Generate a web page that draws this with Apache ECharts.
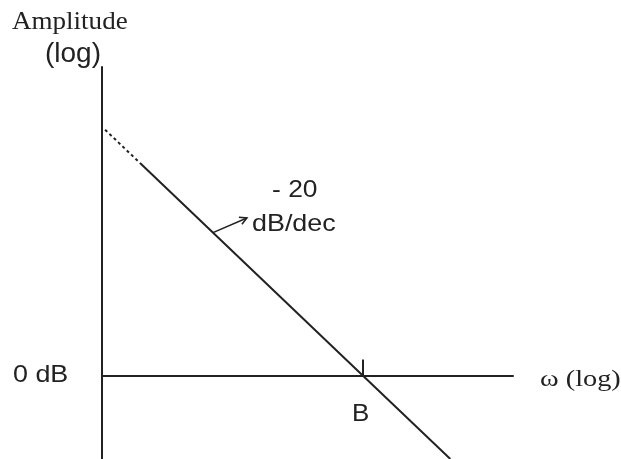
<!DOCTYPE html>
<html>
<head>
<meta charset="utf-8">
<script src="https://cdn.jsdelivr.net/npm/echarts@6/dist/echarts.min.js"></script>
<style>
  html, body { margin: 0; padding: 0; background: #fff; }
  #chart { width: 621px; height: 459px; }
</style>
</head>
<body>
<div id="chart"></div>
<script>
// Asymptotic Bode magnitude sketch: x = log10(ω) in decades, y = gain in dB.
const xRange = [0, 4];
const yRange = [-17, 63];
const slopeLabel = ['- 20', 'dB/dec'];
const crossoverX = 2.54;               // B: where the -20 dB/dec asymptote meets 0 dB
// Extrapolated (dashed) part of the asymptote
const dashedPart = [[0.03, 50.2], [0.37, 43.4]];
// Drawn (solid) part of the asymptote, through B down to the lower edge
const solidPart = [[0.37, 43.4], [crossoverX, 0], [3.39, -17]];
// Small tick marking B on the 0 dB axis
const tickB = [[crossoverX, 0], [crossoverX, 3.3]];
// Arrow pointing from the asymptote to its slope label
const slopeArrow = [[1.08, 29.2], [1.41, 32.2]];

const ink = '#222';
const chart = echarts.init(document.getElementById('chart'));

// Plain text block placed by its top-left corner, optionally widened
function label(text, x, y, font, sx) {
  return {
    type: 'text', x: x, y: y, scaleX: sx || 1, silent: true,
    style: { text: text, font: font, fill: ink, align: 'left', verticalAlign: 'top' }
  };
}

chart.setOption({
  animation: false,
  backgroundColor: '#fff',
  grid: { left: 102, right: 108, top: 67, bottom: 0, outerBoundsMode: 'none' },
  xAxis: {
    type: 'value', min: xRange[0], max: xRange[1],
    axisLine: { onZero: true, lineStyle: { color: ink, width: 2 } },
    axisTick: { show: false }, axisLabel: { show: false }, splitLine: { show: false }
  },
  yAxis: {
    type: 'value', min: yRange[0], max: yRange[1],
    axisLine: { onZero: true, lineStyle: { color: ink, width: 2 } },
    axisTick: { show: false }, axisLabel: { show: false }, splitLine: { show: false }
  },
  series: [
    {
      type: 'line', data: dashedPart, symbol: 'none', silent: true,
      lineStyle: { color: ink, width: 2, type: [3, 3] }
    },
    {
      type: 'line', data: solidPart, symbol: 'none', silent: true,
      lineStyle: { color: ink, width: 2 }
    },
    {
      type: 'line', data: tickB, symbol: 'none', silent: true,
      lineStyle: { color: ink, width: 2 }
    },
    {
      type: 'custom', silent: true,
      data: [slopeArrow[0].concat(slopeArrow[1])],
      renderItem: function (params, api) {
        const p0 = api.coord([api.value(0), api.value(1)]);
        const p1 = api.coord([api.value(2), api.value(3)]);
        const ang = Math.atan2(p1[1] - p0[1], p1[0] - p0[0]);
        const head = 8, spread = 0.5;
        const a = [p1[0] - head * Math.cos(ang - spread), p1[1] - head * Math.sin(ang - spread)];
        const b = [p1[0] - head * Math.cos(ang + spread), p1[1] - head * Math.sin(ang + spread)];
        return {
          type: 'group',
          children: [
            { type: 'line', shape: { x1: p0[0], y1: p0[1], x2: p1[0], y2: p1[1] },
              style: { stroke: ink, lineWidth: 1.6 } },
            { type: 'polyline', shape: { points: [a, p1, b] },
              style: { stroke: ink, lineWidth: 1.6, fill: null } }
          ]
        };
      }
    }
  ],
  graphic: [
    label('Amplitude', 12, 9, '26px "Liberation Serif"', 1.04),
    label('(log)', 45, 40, '28px "Liberation Sans"'),
    label('0 dB', 13, 363, '24px "Liberation Sans"', 1.12),
    label('B', 352, 402, '24px "Liberation Sans"', 1.08),
    label(slopeLabel[0], 272, 178, '24px "Liberation Sans"', 1.1),
    label(slopeLabel[1], 252, 212, '24px "Liberation Sans"', 1.12),
    label('ω (log)', 540, 368, '24px "Liberation Serif"', 1.18)
  ]
});
</script>
</body>
</html>
